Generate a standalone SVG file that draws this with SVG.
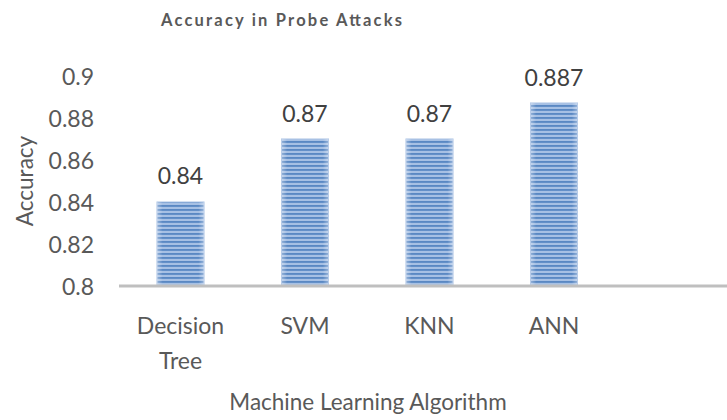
<svg xmlns="http://www.w3.org/2000/svg" width="727" height="420" viewBox="0 0 727 420">
<defs>
<style>
.t{font-family:Lato,"Open Sans","Liberation Sans",sans-serif;}
.title{font-size:16.5px;font-weight:bold;fill:#595959;}
.tick{font-size:23px;fill:#595959;text-anchor:end;}
.val{font-size:23px;fill:#404040;text-anchor:middle;}
.cat{font-size:23px;fill:#595959;text-anchor:middle;}
.axt{font-size:22.5px;fill:#595959;text-anchor:middle;}
.bar{fill:url(#stripes);stroke:#a9c1e4;stroke-width:1;}
</style>
<linearGradient id="edge" x1="0" y1="0" x2="1" y2="0">
<stop offset="0" stop-color="#ffffff" stop-opacity="0.35"/>
<stop offset="0.12" stop-color="#ffffff" stop-opacity="0"/>
<stop offset="0.88" stop-color="#ffffff" stop-opacity="0"/>
<stop offset="1" stop-color="#ffffff" stop-opacity="0.35"/>
</linearGradient>
<pattern id="stripes" x="0" y="0" width="8" height="4" patternUnits="userSpaceOnUse">
<rect x="0" y="0" width="8" height="4" fill="#cddcf0"/>
<rect x="0" y="0.5" width="8" height="0.7" fill="#7fa4d8"/>
<rect x="0" y="1.2" width="8" height="1.6" fill="#4277ba"/>
<rect x="0" y="2.8" width="8" height="0.7" fill="#7fa4d8"/>
</pattern>
</defs>
<rect width="727" height="420" fill="#ffffff"/>
<text class="t title" x="161" y="26" textLength="241" lengthAdjust="spacing">Accuracy in Probe Attacks</text>
<g id="y-axis">
<text class="t tick" x="94" y="85">0.9</text>
<text class="t tick" x="94" y="127">0.88</text>
<text class="t tick" x="94" y="169">0.86</text>
<text class="t tick" x="94" y="211">0.84</text>
<text class="t tick" x="94" y="253">0.82</text>
<text class="t tick" x="94" y="295">0.8</text>
<text class="t axt" transform="translate(33,181) rotate(-90)">Accuracy</text>
</g>
<g id="bar-decision-tree">
<rect class="bar" x="157" y="202" width="47" height="84"/>
<rect x="157" y="202" width="47" height="84" fill="url(#edge)"/>
<text class="t val" x="180.5" y="184">0.84</text>
<text class="t cat" x="180.5" y="334">Decision</text>
<text class="t cat" x="180.5" y="369">Tree</text>
</g>
<g id="bar-svm">
<rect class="bar" x="281.5" y="139" width="47" height="147"/>
<rect x="281.5" y="139" width="47" height="147" fill="url(#edge)"/>
<text class="t val" x="305" y="122">0.87</text>
<text class="t cat" x="305" y="334">SVM</text>
</g>
<g id="bar-knn">
<rect class="bar" x="406" y="139" width="47" height="147"/>
<rect x="406" y="139" width="47" height="147" fill="url(#edge)"/>
<text class="t val" x="429.5" y="122">0.87</text>
<text class="t cat" x="429.5" y="334">KNN</text>
</g>
<g id="bar-ann">
<rect class="bar" x="530.5" y="103" width="47" height="183"/>
<rect x="530.5" y="103" width="47" height="183" fill="url(#edge)"/>
<text class="t val" x="554" y="86">0.887</text>
<text class="t cat" x="554" y="334">ANN</text>
</g>
<g id="connectors">
<line x1="119" y1="286" x2="727" y2="286" stroke="#bfbfbf" stroke-width="3"/>
</g>
<text class="t axt" x="368" y="410">Machine Learning Algorithm</text>
</svg>
